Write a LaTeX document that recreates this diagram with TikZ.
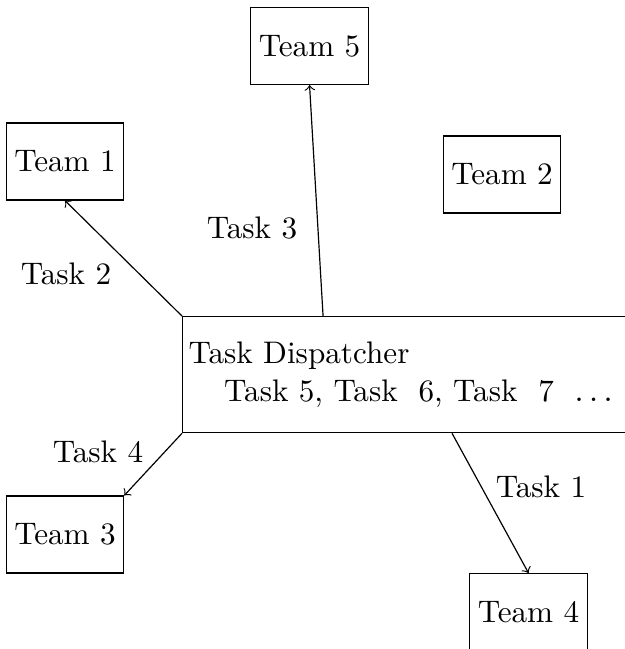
\documentclass[tikz,border=0pt]{standalone}
\usepackage{tikz}
\usetikzlibrary{calc}

\tikzset{
    team/.style={rectangle, draw, inner xsep=2.7pt, minimum height=0.91cm},
    dispatcher/.style={rectangle, draw, align=left, anchor=north west, inner xsep=2pt, text width=5.3cm, minimum height=1.373cm}
}

\begin{document}
\begin{tikzpicture}[font=\fontsize{10.5}{12.6}\selectfont]
            \useasboundingbox (0,0) rectangle (7.385,-7.68);

            \node[dispatcher] (disp) at (2.154,-3.74) {Task Dispatcher\\\hspace*{12pt}Task\ 5, Task\ \ 6, Task\ \ 7\ \ $\ldots$};

            \node[team] (team5) at (3.663,-0.544) {Team 5};
            \node[team] (team1) at (0.769,-1.911) {Team 1};
            \node[team] (team2) at (5.941,-2.065) {Team 2};
            \node[team] (team3) at (0.769,-6.325) {Team 3};
            \node[team] (team4) at (6.254,-7.243) {Team 4};

            \draw[->] (disp.north west) -- (team1.south);
            \draw[->] ([xshift=1.669cm]disp.north west) -- (team5.south);
            \draw[->] (disp.south west) -- (team3.north east);
            \draw[->] ([xshift=3.195cm]disp.south west) -- (team4.north);

            \node (task2) at (0.781,-3.243) {Task 2};
            \node (task3) at (2.982,-2.698) {Task 3};
            \node (task4) at (1.16,-5.349) {Task 4};
            \node (task1) at (6.402,-5.763) {Task 1};

        \end{tikzpicture}
\end{document}
